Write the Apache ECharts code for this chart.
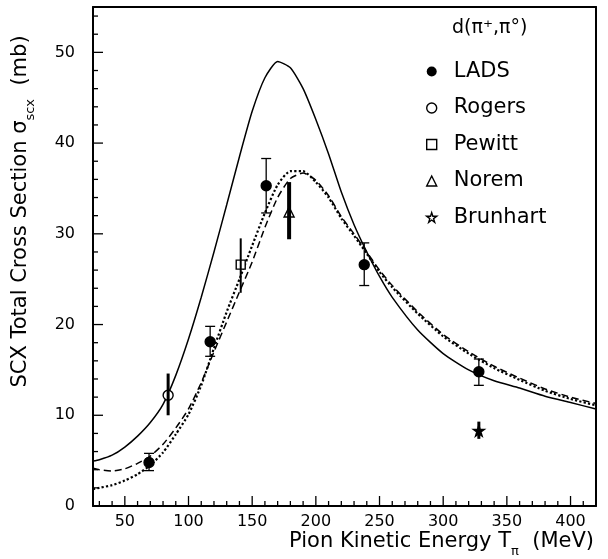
<!DOCTYPE html>
<html lang="en">
<head>
<meta charset="UTF-8">
<title>SCX total cross section</title>
<style>
    *{
        margin: 0;
        padding: 0;
    }
    body{
        background-color: #fff;
    }
    #chart{
        width: 608px;
        height: 559px;
    }
</style>
</head>
<body>
<div id="chart"></div>
<script src="https://cdn.jsdelivr.net/npm/echarts@6/dist/echarts.min.js"></script>
<script type="text/javascript">
// theory curves, pion energy in MeV
var curveX = [25, 30, 40, 50, 60, 70, 80, 90, 100, 110, 120, 130, 140, 150, 160, 170, 180,
    190, 200, 210, 220, 230, 240, 250, 260, 280, 300, 320, 340, 360, 380, 400, 420]
var solidY = [4.95, 5.1, 5.6, 6.5, 7.7, 9.2, 11.2, 14.4, 18.4, 23.0, 28.0, 33.2, 38.5, 43.5, 47.2, 49.0, 48.3,
    46.0, 42.6, 38.8, 34.6, 31.0, 28.0, 25.3, 23.0, 19.4, 16.8, 15.0, 13.8, 13.0, 12.1, 11.4, 10.7]
var dashY = [4.15, 4.0, 3.85, 4.1, 4.7, 5.5, 6.8, 8.6, 10.7, 13.6, 17.0, 20.3, 23.6, 26.9, 30.7, 34.0, 36.1,
    36.7, 35.9, 34.2, 31.9, 30.0, 28.0, 26.0, 24.3, 21.4, 18.9, 17.0, 15.4, 14.1, 12.9, 12.0, 11.3]
var dotY = [1.85, 2.0, 2.3, 2.8, 3.5, 4.5, 5.9, 7.9, 10.1, 13.3, 17.4, 21.4, 25.0, 28.7, 32.3, 35.4, 36.9,
    36.9, 35.7, 34.0, 31.7, 29.8, 27.8, 25.8, 24.1, 21.2, 18.7, 16.8, 15.2, 13.9, 12.7, 11.8, 11.1]

// measurements: value and error bar ends (mb)
var ladsX = [69, 117, 161, 238, 328]
var ladsY = [4.8, 18.1, 35.3, 26.6, 14.8]
var ladsLo = [3.9, 16.5, 32.3, 24.3, 13.3]
var ladsHi = [5.8, 19.8, 38.3, 29.0, 16.2]

var rogersX = [84]
var rogersY = [12.2]
var rogersLo = [10.0]
var rogersHi = [14.6]

var pewittX = [141]
var pewittY = [26.6]
var pewittLo = [23.5]
var pewittHi = [29.5]

var noremX = [179]
var noremY = [32.4]
var noremLo = [29.4]
var noremHi = [35.7]

var brunhartX = [328]
var brunhartY = [8.3]
var brunhartLo = [7.4]
var brunhartHi = [9.3]

// axes and ticks
var xMin = 25, xMax = 420
var yMin = 0, yMax = 55
var xMajor = [50, 100, 150, 200, 250, 300, 350, 400]
var xMinor = [30, 40, 60, 70, 80, 90, 110, 120, 130, 140, 160, 170, 180, 190, 210, 220, 230, 240,
    260, 270, 280, 290, 310, 320, 330, 340, 360, 370, 380, 390, 410]
var yMajor = [0, 10, 20, 30, 40, 50]
var yMinor = [2, 4, 6, 8, 12, 14, 16, 18, 22, 24, 26, 28, 32, 34, 36, 38, 42, 44, 46, 48, 52, 54]

var FONT = 'DejaVu Sans'
var STAR = 'path://M50,2 L61,37 L98,37 L68,59 L79,95 L50,73 L21,95 L32,59 L2,37 L39,37 Z'

function pairs(xs, ys) {
    return xs.map(function (x, i) { return [x, ys[i]] })
}
function bars(xs, lo, hi) {
    return xs.map(function (x, i) { return [x, lo[i], hi[i]] })
}

// vertical error bar, optional caps
function errorBar(width, cap) {
    return function (params, api) {
        var top = api.coord([api.value(0), api.value(2)])
        var bot = api.coord([api.value(0), api.value(1)])
        var style = { stroke: '#000', lineWidth: width }
        var kids = [{ type: 'line', shape: { x1: top[0], y1: top[1], x2: bot[0], y2: bot[1] }, style: style }]
        if (cap) {
            var cs = { stroke: '#000', lineWidth: 1.3 }
            kids.push({ type: 'line', shape: { x1: top[0] - cap, y1: top[1], x2: top[0] + cap, y2: top[1] }, style: cs })
            kids.push({ type: 'line', shape: { x1: bot[0] - cap, y1: bot[1], x2: bot[0] + cap, y2: bot[1] }, style: cs })
        }
        return { type: 'group', children: kids }
    }
}

// inward tick marks on the bottom / left frame.
// the point sits mid-plot (so it is never culled at the edge); the edge comes from coordSys
function tickSeries(name, values, dir, len) {
    var xMid = (xMin + xMax) / 2, yMid = (yMin + yMax) / 2
    var data = values.map(function (v) { return dir === 'x' ? [v, yMid] : [xMid, v] })
    return {
        name: name, type: 'custom', data: data, encode: { x: 0, y: 1 }, z: 5, silent: true, clip: false,
        renderItem: function (params, api) {
            var cs = params.coordSys
            var p = api.coord([api.value(0), api.value(1)])
            var shape
            if (dir === 'x') {
                var yb = cs.y + cs.height
                shape = { x1: p[0], y1: yb, x2: p[0], y2: yb - len }
            } else {
                shape = { x1: cs.x, y1: p[1], x2: cs.x + len, y2: p[1] }
            }
            return { type: 'group', children: [{ type: 'line', shape: shape, style: { stroke: '#000', lineWidth: 1.3 } }] }
        }
    }
}

function curve(name, ys, type) {
    return {
        name: name, type: 'line', data: pairs(curveX, ys), showSymbol: false, smooth: 0.2,
        lineStyle: { color: '#000', width: type === 'dotted' ? 2.2 : 1.5, type: type },
        z: 2, silent: true
    }
}
function errSeries(name, xs, lo, hi, width, cap) {
    return {
        name: name, type: 'custom', data: bars(xs, lo, hi), renderItem: errorBar(width, cap),
        encode: { x: 0, y: [1, 2] }, z: 4, silent: true
    }
}
function markers(name, xs, ys, symbol, size, fill) {
    return {
        name: name, type: 'scatter', data: pairs(xs, ys), symbol: symbol, symbolSize: size,
        itemStyle: { color: fill, borderColor: '#000', borderWidth: 1.4, opacity: 1 },
        z: 3, silent: true
    }
}

function frameLine() {
    return { show: true, onZero: false, lineStyle: { color: '#000', width: 2 } }
}
var openIcon = { color: '#fff', borderColor: '#000', borderWidth: 1.4 }
var subStyle = { fontFamily: FONT, fontSize: 13, color: '#000', lineHeight: 32, verticalAlign: 'bottom' }

var chart = echarts.init(document.getElementById('chart'))
var option = {
    animation: false,
    backgroundColor: '#fff',
    textStyle: { fontFamily: FONT, color: '#000' },
    title: {
        text: 'd(π⁺,π°)', left: 452, top: 19, padding: 0,
        textStyle: { fontFamily: FONT, fontSize: 19, fontWeight: 'normal', color: '#000' }
    },
    legend: {
        orient: 'vertical', left: 426, top: 61, padding: 0,
        itemWidth: 10, itemHeight: 10, itemGap: 15.5, selectedMode: false,
        textStyle: { fontFamily: FONT, fontSize: 21, lineHeight: 21, color: '#000', padding: [0, 0, 0, 12] },
        data: [
            { name: 'LADS', icon: 'circle', itemStyle: { color: '#000', borderWidth: 0 } },
            { name: 'Rogers', icon: 'circle', itemStyle: openIcon },
            { name: 'Pewitt', icon: 'rect', itemStyle: openIcon },
            { name: 'Norem', icon: 'triangle', itemStyle: openIcon },
            { name: 'Brunhart', icon: STAR, itemStyle: openIcon }
        ]
    },
    grid: { left: 93, right: 12, top: 7, bottom: 53, show: false },
    xAxis: [{
        type: 'value', min: xMin, max: xMax, position: 'bottom',
        name: 'Pion Kinetic Energy T{s|π}  (MeV)', nameLocation: 'end', nameGap: -2,
        nameTextStyle: {
            fontFamily: FONT, fontSize: 21, color: '#000', align: 'right', verticalAlign: 'top',
            padding: [20, 0, 0, 0], rich: { s: subStyle }
        },
        axisLine: frameLine(),
        axisTick: { show: false },
        axisLabel: { customValues: xMajor, margin: 8, fontFamily: FONT, fontSize: 16, color: '#000' },
        splitLine: { show: false }
    }, {
        type: 'value', min: xMin, max: xMax, position: 'top',
        axisLine: frameLine(), axisTick: { show: false }, axisLabel: { show: false }, splitLine: { show: false }
    }],
    yAxis: [{
        type: 'value', min: yMin, max: yMax, position: 'left',
        name: 'SCX Total Cross Section σ{s|scx}  (mb)', nameLocation: 'middle', nameGap: 56,
        nameTextStyle: {
            fontFamily: FONT, fontSize: 21, color: '#000', padding: [0, 0, 0, 90], rich: { s: subStyle }
        },
        axisLine: frameLine(),
        axisTick: { show: false },
        axisLabel: { customValues: yMajor, margin: 18, fontFamily: FONT, fontSize: 16, color: '#000' },
        splitLine: { show: false }
    }, {
        type: 'value', min: yMin, max: yMax, position: 'right',
        axisLine: frameLine(), axisTick: { show: false }, axisLabel: { show: false }, splitLine: { show: false }
    }],
    series: [
        curve('solid', solidY, 'solid'),
        curve('dashed', dashY, [7, 4]),
        curve('dotted', dotY, 'dotted'),
        markers('LADS', ladsX, ladsY, 'circle', 10, '#000'),
        markers('Rogers', rogersX, rogersY, 'circle', 10, '#fff'),
        markers('Pewitt', pewittX, pewittY, 'rect', 9, '#fff'),
        markers('Norem', noremX, noremY, 'triangle', 10, '#fff'),
        markers('Brunhart', brunhartX, brunhartY, STAR, 11, '#000'),
        errSeries('LADS err', ladsX, ladsLo, ladsHi, 1.3, 5),
        errSeries('Rogers err', rogersX, rogersLo, rogersHi, 3, 0),
        errSeries('Pewitt err', pewittX, pewittLo, pewittHi, 2, 0),
        errSeries('Norem err', noremX, noremLo, noremHi, 4, 0),
        errSeries('Brunhart err', brunhartX, brunhartLo, brunhartHi, 3, 0),
        tickSeries('x major ticks', xMajor, 'x', 10),
        tickSeries('x minor ticks', xMinor, 'x', 5),
        tickSeries('y major ticks', yMajor.slice(1), 'y', 10),
        tickSeries('y minor ticks', yMinor, 'y', 5)
    ]
}
chart.setOption(option)
</script>
</body>
</html>
